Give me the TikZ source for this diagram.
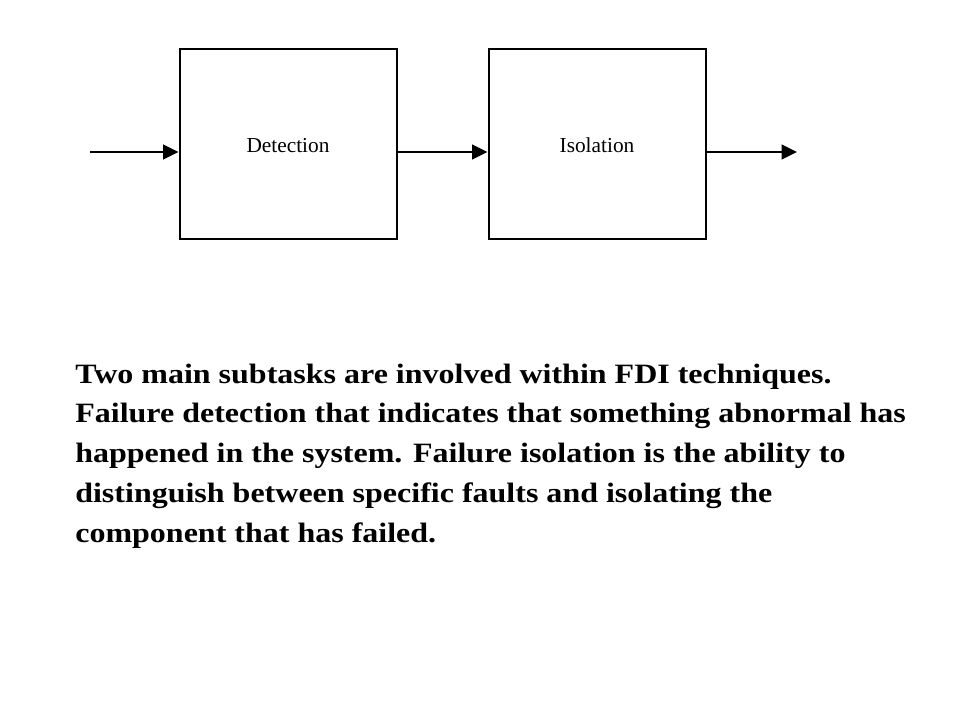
\documentclass[tikz,border=0pt]{standalone}
\usepackage{fontspec}
\setmainfont{Liberation Serif}
\usetikzlibrary{arrows.meta}
\begin{document}
\begin{tikzpicture}[x=0.75pt,y=-0.75pt,
  blockbox/.style={draw,line width=1.5pt,minimum width=162.75pt,minimum height=142.5pt,inner sep=0pt,text height=12.6pt,text depth=0pt,font=\fontsize{16}{18}\selectfont},
  conn/.style={line width=1.5pt,-{Triangle[length=11.5pt,width=11pt]}},
  bodytext/.style={anchor=base west,inner sep=0pt,xscale=1.143,font=\fontsize{21}{25}\selectfont\bfseries}]
\useasboundingbox (0,0) rectangle (960,720);
\node[blockbox] (det) at (288,144.5) {Detection};
\node[blockbox] (iso) at (597,144.5) {Isolation};
\coordinate (in) at (90,152);
\coordinate (out) at (797,152);
\draw[conn] (in) -- (in -| det.west);
\draw[conn] (det.east |- in) -- (iso.west |- in);
\draw[conn] (iso.east |- in) -- (out);
\node[bodytext] (l1) at (75,383) {Two main subtasks are involved within FDI techniques.};
\node[bodytext] (l2) at (75,422.75) {Failure detection that indicates that something abnormal has};
\node[bodytext] (l3) at (75,462.5) {happened in the system. Failure isolation is the ability to};
\node[bodytext] (l4) at (75,502.25) {distinguish between specific faults and isolating the};
\node[bodytext] (l5) at (75,542) {component that has failed.};
\end{tikzpicture}
\end{document}
